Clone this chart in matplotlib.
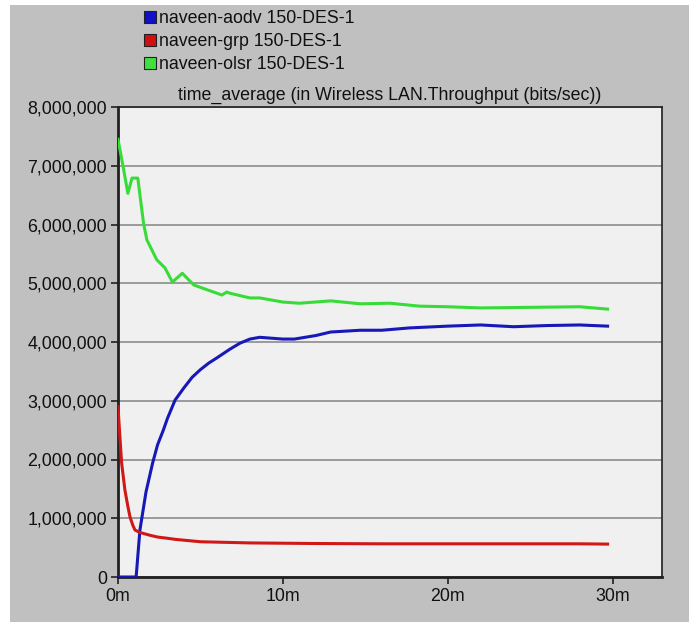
import numpy as np
import matplotlib
matplotlib.use("Agg")
import matplotlib.pyplot as plt
from matplotlib.lines import Line2D
from matplotlib.patches import Rectangle
from matplotlib.ticker import FuncFormatter

plt.rcParams['font.family'] = ['Liberation Sans', 'DejaVu Sans']

# time in minutes
t_aodv = [0, 1.1, 1.33, 1.7, 2.1, 2.4, 2.75, 3.0, 3.46, 4.0, 4.5, 5.0, 5.5, 6.0,
          6.8, 7.4, 8.0, 8.6, 10.0, 10.7, 12.0, 12.9, 14.7, 16.0, 17.7, 20.0,
          22.0, 24.0, 26.0, 28.0, 29.7]
aodv = [0, 0, 800000, 1450000, 1940000, 2250000, 2500000, 2700000, 3010000,
        3220000, 3400000, 3530000, 3640000, 3730000, 3880000, 3980000, 4050000,
        4080000, 4050000, 4050000, 4110000, 4170000, 4200000, 4200000, 4240000,
        4270000, 4290000, 4260000, 4280000, 4290000, 4270000]

t_grp = [0, 0.1, 0.22, 0.42, 0.6, 0.73, 0.9, 1.03, 1.3, 1.94, 2.4, 2.97, 3.5, 5.0,
         8.0, 12.0, 16.0, 20.0, 24.0, 28.0, 29.7]
grp = [2900000, 2450000, 1940000, 1480000, 1200000, 1020000, 880000, 800000,
       760000, 710000, 680000, 660000, 640000, 600000, 580000, 570000, 565000,
       565000, 565000, 565000, 560000]

t_olsr = [0, 0.3, 0.6, 0.85, 1.2, 1.55, 1.75, 2.35, 2.85, 3.3, 3.9, 4.6, 5.4, 6.3,
          6.6, 6.8, 8.0, 8.6, 10.0, 11.0, 12.9, 14.7, 16.5, 18.3, 20.0, 22.0,
          25.0, 28.0, 29.7]
olsr = [7450000, 7000000, 6530000, 6790000, 6790000, 6020000, 5740000, 5400000,
        5260000, 5020000, 5170000, 4970000, 4890000, 4800000, 4850000, 4830000,
        4750000, 4750000, 4680000, 4660000, 4700000, 4650000, 4660000, 4610000,
        4600000, 4580000, 4590000, 4600000, 4560000]

labels = ["naveen-aodv 150-DES-1", "naveen-grp 150-DES-1", "naveen-olsr 150-DES-1"]
colors = ["#1818b8", "#d01818", "#38dc38"]
box_colors = ["#1010c8", "#d01010", "#40e040"]

fig = plt.figure(figsize=(6.89, 6.25), dpi=100, facecolor='white')
# grey panel behind everything
fig.patches.append(Rectangle((10 / 689, 1 - 622 / 625), 679 / 689, 617 / 625,
                             transform=fig.transFigure, facecolor='#c0c0c0',
                             edgecolor='none', zorder=-10))

ax = fig.add_axes([118 / 689, 1 - 577 / 625, 544 / 689, 470 / 625])
ax.set_facecolor('#f0f0f0')

ax.plot(t_aodv, aodv, color=colors[0], lw=2.2, zorder=3)
ax.plot(t_grp, grp, color=colors[1], lw=2.2, zorder=3)
ax.plot(t_olsr, olsr, color=colors[2], lw=2.2, zorder=3)

ax.set_xlim(0, 33)
ax.set_ylim(0, 8000000)
ax.set_yticks(np.arange(0, 8000001, 1000000))
ax.set_xticks([0, 10, 20, 30])
ax.xaxis.set_major_formatter(FuncFormatter(lambda v, p: "%dm" % v))
ax.yaxis.set_major_formatter(FuncFormatter(lambda v, p: "{:,}".format(int(v))))
ax.yaxis.grid(True, color='#8c8c8c', lw=1.2)
ax.set_axisbelow(True)

ax.tick_params(axis='both', direction='out', length=5, width=1.2, color='#202020',
               labelsize=12.8, labelcolor='#101010', pad=3)

for s in ['left', 'bottom']:
    ax.spines[s].set_linewidth(2)
    ax.spines[s].set_color('#202020')
for s in ['top', 'right']:
    ax.spines[s].set_linewidth(1.2)
    ax.spines[s].set_color('#202020')

ax.set_title("time_average (in Wireless LAN.Throughput (bits/sec))", fontsize=12.8,
             color='#101010', pad=5.5)

handles = [Line2D([], [], ls='none', marker='s', markersize=9, markerfacecolor=c,
                  markeredgecolor='#202020', markeredgewidth=0.8) for c in box_colors]
fig.legend(handles, labels, loc='upper left', bbox_to_anchor=(131 / 689, 1 + 2 / 625),
           frameon=False, fontsize=12.8, handlelength=0.7, handletextpad=0.15,
           labelspacing=0.32, borderpad=0.2, labelcolor='#101010')

fig.savefig("out.png", dpi=100, facecolor=fig.get_facecolor())
